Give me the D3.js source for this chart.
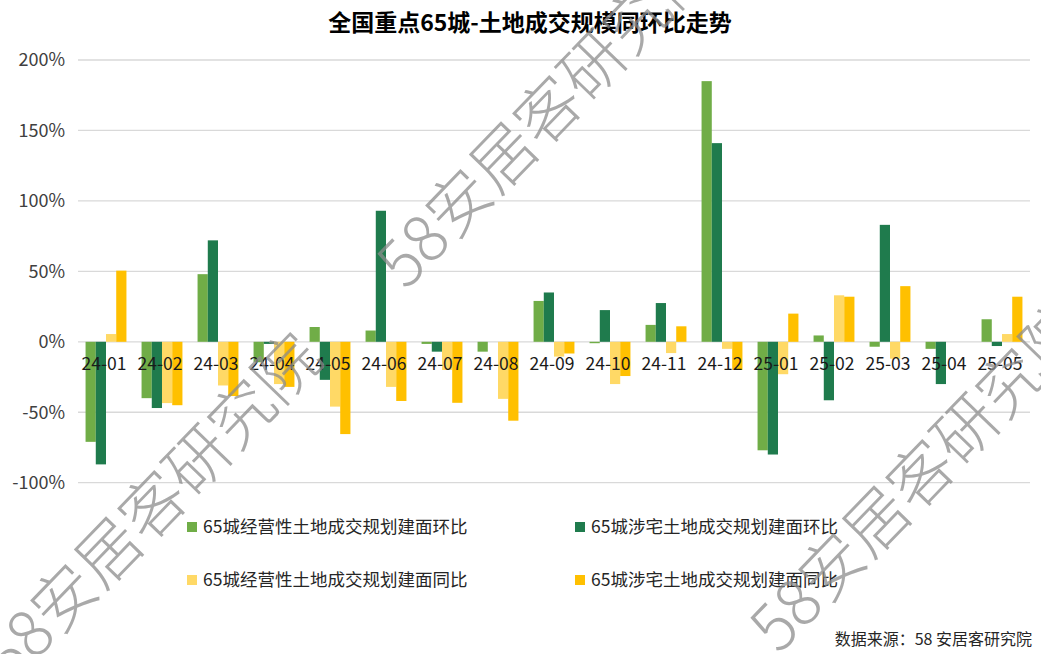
<!DOCTYPE html>
<html>
<head>
<meta charset="utf-8">
<script src="https://cdn.jsdelivr.net/npm/d3@7"></script>
<style>
  html, body { margin: 0; padding: 0; background: #fff; }
  svg { display: block; font-family: "Noto Sans CJK SC", "Noto Sans", sans-serif; }
</style>
</head>
<body>
<svg id="chart" width="1041" height="654"></svg>
<script>
// ---- data ----
const months = ["24-01","24-02","24-03","24-04","24-05","24-06","24-07","24-08","24-09","24-10","24-11","24-12","25-01","25-02","25-03","25-04","25-05"];
const seriesNames = ["65城经营性土地成交规划建面环比","65城涉宅土地成交规划建面环比","65城经营性土地成交规划建面同比","65城涉宅土地成交规划建面同比"];
const commercialMoM   = [-71, -40, 48, -14.5, 10.5, 8, -1.5, -7, 29, -1, 12, 185, -77, 4.5, -3.5, -5, 16];
const residentialMoM  = [-87, -47, 72, -1.5, -27, 93, -7, 0, 35, 22.5, 27.5, 141, -80, -41.5, 83, -30, -3];
const commercialYoY   = [5.5, -43.5, -31, -30, -46, -32, -20, -40.5, -10.5, -30, -8, -5, -23, 33, -12, 0, 5.5];
const residentialYoY  = [50.5, -45, -38.5, -32, -65.5, -42, -43.3, -56, -8.3, -24.3, 11, -20, 20, 32, 39.5, 0, 32];
const yTicks = [-100, -50, 0, 50, 100, 150, 200];
const colors = ["#70AD47", "#1F7B4D", "#FFD966", "#FFC000"];
const title = "全国重点65城-土地成交规模同环比走势";
const source = "数据来源：58 安居客研究院";
const watermark = "58安居客研究院";

const allSeries = [commercialMoM, residentialMoM, commercialYoY, residentialYoY];

const svg = d3.select("#chart");

const x = d3.scaleBand().domain(months).range([78, 1030]).paddingInner(0.27).paddingOuter(0.135);
const xs = d3.scaleBand().domain(d3.range(4)).range([0, x.bandwidth()]);
const y = d3.scaleLinear().domain([-100, 200]).range([482.7, 60]);

// title
svg.append("text").attr("x", 530).attr("y", 31).attr("text-anchor", "middle")
  .attr("font-size", 23).attr("font-weight", 700).attr("fill", "#000").text(title);

// gridlines
svg.append("g").selectAll("line").data(yTicks).join("line")
  .attr("x1", 78).attr("x2", 1030)
  .attr("y1", d => y(d)).attr("y2", d => y(d))
  .attr("stroke", "#d9d9d9").attr("stroke-width", 1.3);

// y labels
svg.append("g").selectAll("text").data(yTicks).join("text")
  .attr("x", 65).attr("y", d => y(d)).attr("dy", "0.35em")
  .attr("text-anchor", "end").attr("font-size", 18).attr("fill", "#404040")
  .text(d => d + "%");

// bars
const groups = svg.append("g").selectAll("g").data(months).join("g")
  .attr("transform", d => `translate(${x(d)},0)`);
groups.selectAll("rect").data((m, i) => allSeries.map((s, k) => ({k, v: s[i]}))).join("rect")
  .attr("x", d => xs(d.k)).attr("width", xs.bandwidth())
  .attr("y", d => y(Math.max(0, d.v)))
  .attr("height", d => Math.abs(y(d.v) - y(0)))
  .attr("fill", d => colors[d.k]);

// x labels
svg.append("g").selectAll("text").data(months).join("text")
  .attr("x", d => x(d) + x.bandwidth() / 2 - 2).attr("y", 364).attr("dy", "0.35em")
  .attr("text-anchor", "middle").attr("font-size", 17.5).attr("fill", "#1a1a1a")
  .text(d => d);

// legend
const legendPos = [[187, 527], [575, 527], [187, 580], [575, 580]];
const lg = svg.append("g").selectAll("g").data(seriesNames).join("g")
  .attr("transform", (d, i) => `translate(${legendPos[i][0]},${legendPos[i][1]})`);
lg.append("rect").attr("x", 0).attr("y", -5).attr("width", 10).attr("height", 10)
  .attr("fill", (d, i) => colors[i]);
lg.append("text").attr("x", 16).attr("y", 0).attr("dy", "0.35em")
  .attr("font-size", 17.5).attr("fill", "#262626").text(d => d);

// source
svg.append("text").attr("x", 1032).attr("y", 645).attr("text-anchor", "end")
  .attr("font-size", 16).attr("fill", "#262626").text(source);

// watermarks
const wm = [[152, 508], [547, 113], [920, 477]];
svg.append("g").selectAll("text").data(wm).join("text")
  .attr("transform", d => `translate(${d[0]},${d[1]}) rotate(-46)`)
  .attr("text-anchor", "middle").attr("dy", "0.35em")
  .attr("font-size", 64).attr("font-weight", 200)
  .attr("fill", "#8c8c8c").attr("fill-opacity", 0.75)
  .text(watermark);
</script>
</body>
</html>
